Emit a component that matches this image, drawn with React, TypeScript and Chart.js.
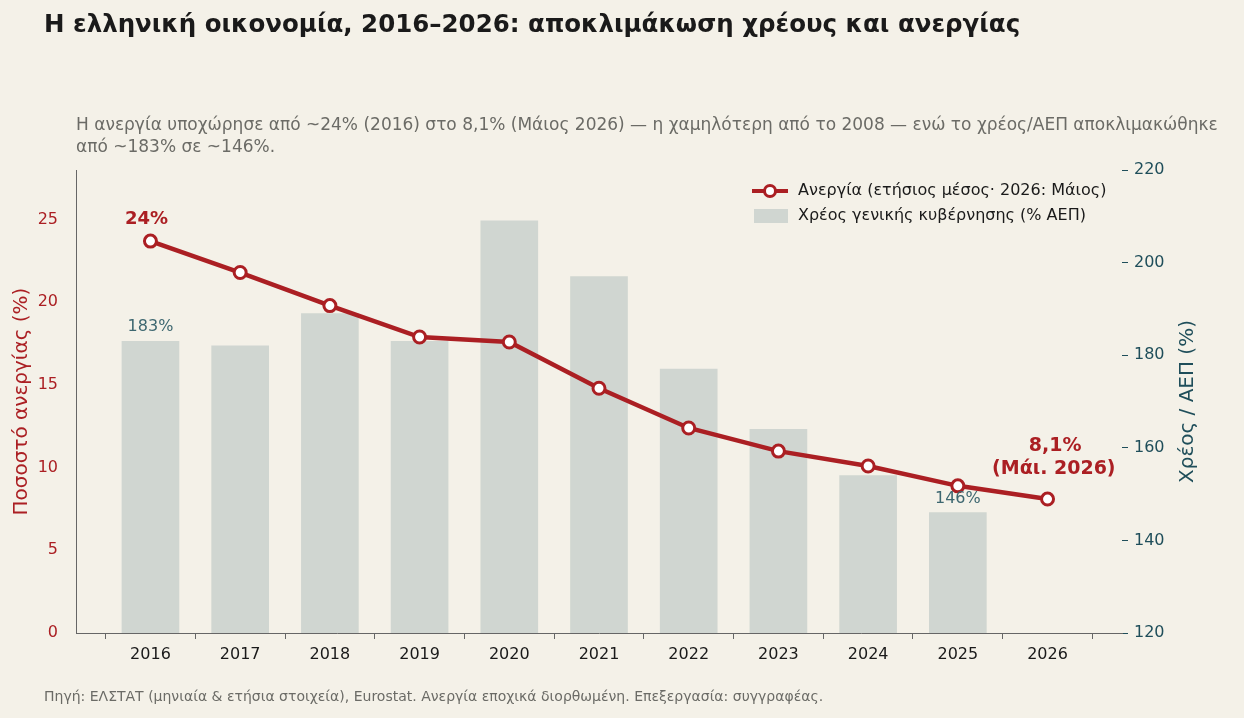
import React, { useEffect, useRef } from "react";
import { Chart, registerables } from "chart.js";
Chart.register(...registerables);

const years = [2016, 2017, 2018, 2019, 2020, 2021, 2022, 2023, 2024, 2025, 2026];
const unemployment = [23.7, 21.8, 19.8, 17.9, 17.6, 14.8, 12.4, 11.0, 10.1, 8.9, 8.1];
const debtYears = [2016, 2017, 2018, 2019, 2020, 2021, 2022, 2023, 2024, 2025];
const debt = [183, 182, 189, 183, 209, 197, 177, 164, 154, 146];
const leftTicks = [0, 5, 10, 15, 20, 25];
const rightTicks = [120, 140, 160, 180, 200, 220];

const RED = "#ab1f23";
const TEAL = "#1f4e5a";
const BAR = "#d0d6d1";
const FONT = "DejaVu Sans";

export default function App() {
  const ref = useRef<HTMLCanvasElement>(null);
  useEffect(() => {
    const annot = {
      id: "annot",
      afterDatasetsDraw(c: any) {
        const ctx = c.ctx;
        const x = c.scales.x, yl = c.scales.y, yr = c.scales.y2;
        ctx.save();
        ctx.textAlign = "center";
        ctx.textBaseline = "alphabetic";
        ctx.font = `bold 18px ${FONT}`;
        ctx.fillStyle = RED;
        ctx.fillText("24%", x.getPixelForValue(2016) - 4, yl.getPixelForValue(unemployment[0]) - 17);
        ctx.font = `16px ${FONT}`;
        ctx.fillStyle = "#3d6770";
        ctx.fillText("183%", x.getPixelForValue(2016), yr.getPixelForValue(debt[0]) - 10);
        ctx.fillText("146%", x.getPixelForValue(2025), yr.getPixelForValue(debt[9]) - 10);
        ctx.font = `bold 19px ${FONT}`;
        ctx.fillStyle = RED;
        ctx.textAlign = "right";
        const lx = x.getPixelForValue(2026) + 64;
        const ly = yl.getPixelForValue(unemployment[10]);
        ctx.fillText("8,1%", x.getPixelForValue(2026) + 34, ly - 48);
        ctx.fillText("(Μάι. 2026)", lx + 4, ly - 25);
        // right axis title
        ctx.save();
        ctx.translate(1188, (yr.top + yr.bottom) / 2);
        ctx.rotate(-Math.PI / 2);
        ctx.textAlign = "center"; ctx.textBaseline = "middle";
        ctx.fillStyle = TEAL; ctx.font = `20px ${FONT}`;
        ctx.fillText("Χρέος / ΑΕΠ (%)", 0, 0);
        ctx.restore();
        // legend
        const lgx = 752, lgy = 191;
        ctx.strokeStyle = RED; ctx.lineWidth = 4;
        ctx.beginPath(); ctx.moveTo(lgx, lgy); ctx.lineTo(lgx + 36, lgy); ctx.stroke();
        ctx.fillStyle = "#fff"; ctx.lineWidth = 3;
        ctx.beginPath(); ctx.arc(lgx + 18, lgy, 5.5, 0, Math.PI * 2); ctx.fill(); ctx.stroke();
        ctx.fillStyle = BAR;
        ctx.fillRect(lgx + 2, lgy + 18, 34, 14);
        ctx.fillStyle = "#1a1a1a";
        ctx.font = `16px ${FONT}`;
        ctx.textAlign = "left"; ctx.textBaseline = "middle";
        ctx.fillText("Ανεργία (ετήσιος μέσος· 2026: Μάιος)", lgx + 46, lgy);
        ctx.fillText("Χρέος γενικής κυβέρνησης (% ΑΕΠ)", lgx + 46, lgy + 25);
        ctx.restore();
      },
    };
    const chart = new Chart(ref.current!, {
      data: {
        datasets: [
          {
            type: "line",
            data: years.map((y, i) => ({ x: y, y: unemployment[i] })),
            yAxisID: "y",
            borderColor: RED,
            borderWidth: 4.5,
            pointRadius: 6,
            pointBorderWidth: 3,
            pointBackgroundColor: "#fff",
            pointBorderColor: RED,
            order: 0,
          },
          {
            type: "bar",
            data: debtYears.map((y, i) => ({ x: y, y: debt[i] })),
            yAxisID: "y2",
            backgroundColor: BAR,
            barThickness: 57,
            order: 1,
          },
        ],
      } as any,
      options: {
        animation: false,
        responsive: false,
        layout: { padding: { top: 170, right: 0, left: 10, bottom: 0 } },
        plugins: { legend: { display: false }, tooltip: { enabled: false } },
        scales: {
          x: {
            type: "linear",
            offset: false,
            bounds: "data",
            min: 2015.17,
            max: 2026.83,
            afterBuildTicks: (s: any) => { s.ticks = years.map((v) => ({ value: v })); },
            afterFit: (s: any) => { s.height = 85; },
            grid: { display: true, drawOnChartArea: false, drawTicks: true, tickLength: 6, color: "#666" } as any,
            border: { color: "#666", width: 1 },
            ticks: { color: "#1a1a1a", font: { family: FONT, size: 16 }, padding: 6, callback: (v: any) => String(v) },
          },
          y: {
            position: "left",
            min: 0,
            max: 28,
            afterBuildTicks: (s: any) => { s.ticks = leftTicks.map((v) => ({ value: v })); },
            afterFit: (s: any) => { s.width = 66; },
            grid: { display: false },
            border: { color: "#666", width: 1 },
            ticks: { color: RED, font: { family: FONT, size: 16 }, padding: 10 },
            title: { display: true, text: "Ποσοστό ανεργίας (%)", color: RED, font: { family: FONT, size: 20 }, padding: 0 },
          },
          y2: {
            position: "right",
            min: 120,
            max: 220,
            afterBuildTicks: (s: any) => { s.ticks = rightTicks.map((v) => ({ value: v })); },
            afterFit: (s: any) => { s.width = 122; },
            grid: { display: true, drawOnChartArea: false, drawTicks: true, tickLength: 6, color: TEAL } as any,
            border: { display: false },
            ticks: { color: TEAL, font: { family: FONT, size: 16 }, padding: 6 },
          },
        },
      } as any,
      plugins: [annot],
    });
    return () => chart.destroy();
  }, []);
  return (
    <div style={{ position: "fixed", left: 0, top: 0, width: 1244, height: 718, background: "#f4f1e8", fontFamily: FONT }}>
      <canvas ref={ref} width={1244} height={718} style={{ position: "absolute", left: 0, top: 0 }} />
      <div style={{ position: "absolute", left: 44, top: 9, fontSize: 24.5, fontWeight: "bold", color: "#1a1a1a" }}>
        Η ελληνική οικονομία, 2016–2026: αποκλιμάκωση χρέους και ανεργίας
      </div>
      <div style={{ position: "absolute", left: 76, top: 113, width: 1170, fontSize: 17, lineHeight: "22px", color: "#6b6b66" }}>
        Η ανεργία υποχώρησε από ~24% (2016) στο 8,1% (Μάιος 2026) — η χαμηλότερη από το 2008 — ενώ το χρέος/ΑΕΠ αποκλιμακώθηκε από ~183% σε ~146%.
      </div>
      <div style={{ position: "absolute", left: 44, top: 688, fontSize: 14, color: "#6b6b66" }}>
        Πηγή: ΕΛΣΤΑΤ (μηνιαία &amp; ετήσια στοιχεία), Eurostat. Ανεργία εποχικά διορθωμένη. Επεξεργασία: συγγραφέας.
      </div>
    </div>
  );
}
